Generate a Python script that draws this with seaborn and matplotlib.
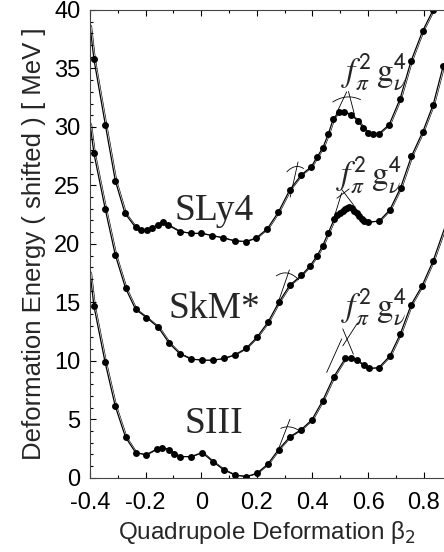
import matplotlib
matplotlib.use('Agg')
import matplotlib.pyplot as plt
import matplotlib.transforms as mtransforms
from matplotlib.ticker import MultipleLocator
import numpy as np
import seaborn as sns

# Deformation energy curves (shifted)
sly4_beta = [-0.400, -0.386, -0.345, -0.309, -0.274, -0.236, -0.217, -0.196, -0.178, -0.157,
             -0.139, -0.119, -0.077, -0.037, 0.000, 0.040, 0.080, 0.120, 0.160, 0.198,
             0.238, 0.277, 0.318, 0.360, 0.396, 0.417, 0.437, 0.457, 0.475, 0.496,
             0.514, 0.540, 0.565, 0.583, 0.600, 0.618, 0.638, 0.676, 0.715, 0.754,
             0.796, 0.834]
sly4_energy = [38.7, 35.8, 30.2, 25.4, 22.6, 21.4, 21.2, 21.2, 21.35, 21.65,
               21.85, 21.6, 21.05, 20.9, 20.9, 20.7, 20.5, 20.25, 20.2, 20.5,
               21.3, 22.7, 24.6, 25.9, 26.6, 27.45, 28.2, 29.4, 30.7, 31.3,
               31.3, 31.0, 30.5, 29.9, 29.5, 29.4, 29.4, 30.2, 32.4, 35.6,
               38.2, 40.0]

skm_beta = [-0.400, -0.386, -0.345, -0.309, -0.272, -0.236, -0.197, -0.154, -0.115, -0.077,
            -0.037, 0.003, 0.043, 0.081, 0.120, 0.161, 0.200, 0.240, 0.279, 0.318,
            0.360, 0.391, 0.417, 0.437, 0.457, 0.479, 0.490, 0.500, 0.510, 0.517,
            0.525, 0.533, 0.542, 0.551, 0.560, 0.569, 0.578, 0.587, 0.600, 0.640,
            0.678, 0.717, 0.756, 0.797, 0.834, 0.870]
skm_energy = [30.3, 27.75, 22.95, 19.05, 16.2, 14.4, 13.7, 12.85, 11.5, 10.6,
              10.15, 10.05, 10.05, 10.2, 10.5, 11.05, 12.0, 13.3, 15.0, 16.45,
              17.3, 18.1, 19.0, 19.85, 20.95, 22.15, 22.45, 22.65, 22.85, 22.95,
              23.1, 23.15, 23.05, 22.85, 22.6, 22.35, 22.15, 21.95, 21.85, 21.95,
              22.9, 24.8, 27.5, 29.6, 31.9, 35.2]

siii_beta = [-0.400, -0.386, -0.346, -0.309, -0.272, -0.236, -0.199, -0.160, -0.140, -0.116,
             -0.097, -0.076, -0.037, 0.003, 0.043, 0.082, 0.121, 0.161, 0.200, 0.239,
             0.278, 0.319, 0.359, 0.398, 0.437, 0.476, 0.518, 0.540, 0.560, 0.584,
             0.602, 0.638, 0.678, 0.716, 0.755, 0.794, 0.834, 0.876]
siii_energy = [17.6, 14.7, 9.9, 6.1, 3.45, 2.15, 1.95, 2.45, 2.55, 2.4,
               2.05, 1.8, 1.8, 2.15, 1.35, 0.66, 0.23, 0.09, 0.37, 1.15,
               2.4, 3.5, 4.1, 4.95, 6.6, 8.6, 10.2, 10.25, 10.05, 9.6,
               9.35, 9.4, 10.4, 12.3, 14.8, 16.4, 18.55, 21.4]

# local approximations drawn as short arcs: centre, slope, curvature, half width
fit_cx = [0.338, 0.334, 0.523, 0.504, 0.540,
          0.310, 0.294, 0.510, 0.526, 0.490,
          0.319, 0.298, 0.534, 0.528, 0.478]
fit_cy = [26.6, 25.5, 32.56, 32.05, 32.07,
          17.5, 16.18, 24.3, 24.0, 23.2,
          4.34, 3.7, 12.2, 11.65, 10.43]
fit_slope = [4.7, 107, 2, 50, -92,
             -4, 69, 18, -31, 77,
             -3, 62, 37, -57, 53]
fit_curv = [-330, 0, -132, 0, 0,
            -250, 0, 0, 0, 0,
            -200, 0, 0, 0, 0]
fit_hw = [0.03, 0.014, 0.05, 0.019, 0.0105,
          0.04, 0.023, 0.022, 0.021, 0.015,
          0.033, 0.021, 0.025, 0.019, 0.027]

force_names = ['SLy4', 'SkM*', 'SIII']
name_beta = [0.046, 0.049, 0.046]
name_energy = [22.0, 13.65, 3.85]
coupling_label = r'$f_{\pi}^{\mathsf{2}}\,\mathrm{g}_{\nu}^{\mathsf{4}}$'
coupling_beta = [0.502, 0.484, 0.502]
coupling_energy = [34.0, 25.2, 13.9]

sns.set_style('ticks')
plt.rcParams['font.family'] = ['Liberation Sans', 'DejaVu Sans']
plt.rcParams['axes.unicode_minus'] = False

fig = plt.figure(figsize=(4.44, 5.52), dpi=100)
ax = fig.add_axes([90 / 444, 74.3 / 552, 354 / 444, 467.7 / 552])

shift = mtransforms.offset_copy(ax.transData, fig=fig, x=1.6, y=0, units='dots')
curves = [(sly4_beta, sly4_energy, [0]),
          (skm_beta, skm_energy, [0]),
          (siii_beta, siii_energy, [0, len(siii_beta) - 1])]
for bx, en, edge in curves:
    sns.lineplot(x=bx, y=en, ax=ax, color='black', lw=0.9, marker='o',
                 markersize=5, markeredgewidth=0, sort=False, estimator=None)
    line = ax.lines[-1]
    line.set_markevery([i for i in range(len(bx)) if i not in edge])
    # thin companion curve (fit)
    ax.plot(bx, en, color='black', lw=0.45, transform=shift)

for cx, cy, s, c, hw in zip(fit_cx, fit_cy, fit_slope, fit_curv, fit_hw):
    xx = np.linspace(cx - hw, cx + hw, 30)
    ax.plot(xx, cy + s * (xx - cx) + c * (xx - cx) ** 2, color='black', lw=0.6)

for name, bx, en in zip(force_names, name_beta, name_energy):
    ax.text(bx, en, name, family='Liberation Serif', fontsize=27,
            ha='center', va='baseline')
for bx, en in zip(coupling_beta, coupling_energy):
    ax.text(bx, en, coupling_label, fontsize=24, math_fontfamily='stix',
            ha='left', va='baseline')

ax.set_xlim(-0.4, 0.873)
ax.set_ylim(0, 40)
ax.xaxis.set_minor_locator(MultipleLocator(0.1))
ax.yaxis.set_major_locator(MultipleLocator(5))
ax.yaxis.set_minor_locator(MultipleLocator(1))
ax.set_xticks(np.arange(-0.4, 0.81, 0.2))
ax.set_xticklabels(['-0.4', '-0.2', '0', '0.2', '0.4', '0.6', '0.8'])
ax.tick_params(which='both', direction='in', top=True, right=False,
               width=0.8, colors='black', labelsize=17)
ax.tick_params(which='major', length=4.5)
ax.tick_params(which='minor', length=2.3)
ax.tick_params(axis='x', pad=10)
ax.tick_params(axis='y', pad=7)
for side in ['left', 'bottom', 'top']:
    ax.spines[side].set_linewidth(0.8)
    ax.spines[side].set_color('#444444')
ax.spines['right'].set_visible(False)

ax.set_xlabel(r'Quadrupole Deformation β$_2$', fontsize=17.5,
              math_fontfamily='dejavusans', labelpad=4)
ax.set_ylabel('Deformation Energy ( shifted ) [ MeV ]', fontsize=18.5, labelpad=6)

fig.savefig('out.png', dpi=100)
